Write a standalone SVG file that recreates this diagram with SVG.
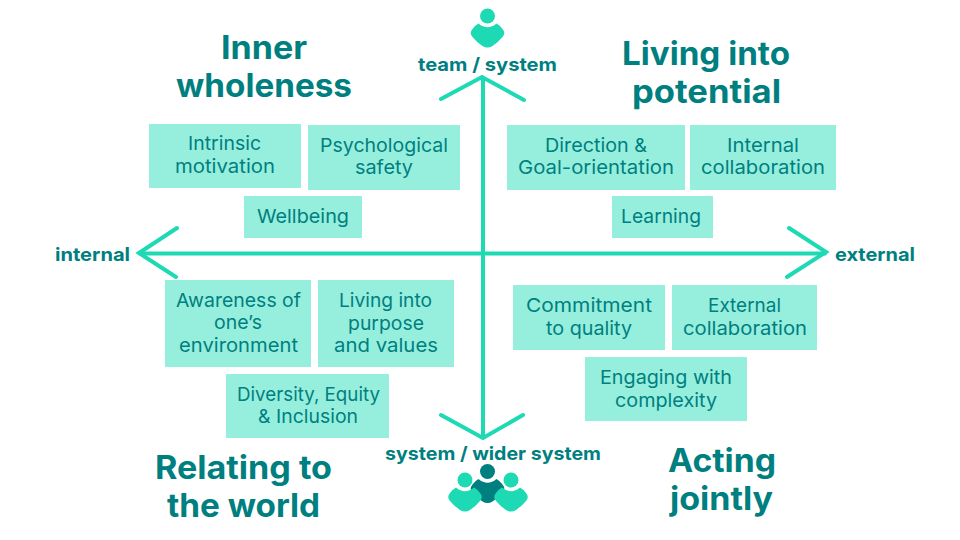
<svg xmlns="http://www.w3.org/2000/svg" width="960" height="540" viewBox="0 0 960 540">
<defs>
<g id="person"><circle cx="0" cy="0" r="7.500"/><path d="M-9 7.500Q0 15 9 7.500Q12 9 15 13Q18.500 17 15 21Q10 27 5 30Q0 33-5 30Q-10 27-15 21Q-18.500 17-15 13Q-12 9-9 7.500Z"/></g>
</defs>
<style>
text{font-family:"Inter","Open Sans","Liberation Sans",sans-serif;fill:#007f80;text-anchor:middle}
.h{font-size:32px;font-weight:700}
.l{font-size:18.500px;font-weight:700}
.b{font-size:19px;font-weight:400}
.box{fill:#96efdd}
.ax{fill:none;stroke:#1dd9b4;stroke-width:4;stroke-linecap:round;stroke-linejoin:miter}
.m{fill:#1dd9b4}
.d{fill:#007f80}
</style>
<rect width="960" height="540" fill="#fff"/>
<g id="connectors">
<path class="ax" d="M483 78V437M140 253.500H825"/>
<path class="ax" d="M441 99L482 77L524 100M441 415L483 438L523 415M177 228L139 253L176 277M789 228L826 252L787 277"/>
</g>
<g id="icon-team"><use href="#person" class="m" x="487.500" y="16"/></g>
<g id="icon-system">
<use href="#person" class="d" x="487.500" y="471.500"/>
<use href="#person" class="m" x="465" y="480"/>
<use href="#person" class="m" x="511" y="480"/>
</g>
<g id="title-inner"><text class="h" x="264" y="59" textLength="86" lengthAdjust="spacingAndGlyphs">Inner</text><text class="h" x="264" y="97" textLength="176" lengthAdjust="spacingAndGlyphs">wholeness</text></g>
<g id="title-potential"><text class="h" x="706" y="65" textLength="168" lengthAdjust="spacingAndGlyphs">Living into</text><text class="h" x="706.500" y="103" textLength="149" lengthAdjust="spacingAndGlyphs">potential</text></g>
<g id="title-world"><text class="h" x="243.500" y="479" textLength="177" lengthAdjust="spacingAndGlyphs">Relating to</text><text class="h" x="243.500" y="517" textLength="153" lengthAdjust="spacingAndGlyphs">the world</text></g>
<g id="title-jointly"><text class="h" x="722" y="472" textLength="108" lengthAdjust="spacingAndGlyphs">Acting</text><text class="h" x="721.500" y="510" textLength="103" lengthAdjust="spacingAndGlyphs">jointly</text></g>
<g id="label-team"><text class="l" x="487.500" y="71" textLength="139" lengthAdjust="spacingAndGlyphs">team / system</text></g>
<g id="label-system"><text class="l" x="493" y="460" textLength="216" lengthAdjust="spacingAndGlyphs">system / wider system</text></g>
<g id="label-internal"><text class="l" x="92.500" y="261" textLength="75" lengthAdjust="spacingAndGlyphs">internal</text></g>
<g id="label-external"><text class="l" x="875" y="261" textLength="80" lengthAdjust="spacingAndGlyphs">external</text></g>
<g id="n1"><rect class="box" x="149" y="124" width="152" height="64"/><text class="b" x="224.500" y="150" textLength="73" lengthAdjust="spacingAndGlyphs">Intrinsic</text><text class="b" x="225" y="173" textLength="100" lengthAdjust="spacingAndGlyphs">motivation</text></g>
<g id="n2"><rect class="box" x="308" y="125" width="152" height="65"/><text class="b" x="384" y="152" textLength="128" lengthAdjust="spacingAndGlyphs">Psychological</text><text class="b" x="384" y="174" textLength="58" lengthAdjust="spacingAndGlyphs">safety</text></g>
<g id="n3"><rect class="box" x="244" y="196" width="118" height="42"/><text class="b" x="303" y="223" textLength="92" lengthAdjust="spacingAndGlyphs">Wellbeing</text></g>
<g id="n4"><rect class="box" x="507" y="125" width="178" height="65"/><text class="b" x="596" y="152" textLength="102" lengthAdjust="spacingAndGlyphs">Direction &amp;</text><text class="b" x="596" y="174" textLength="156" lengthAdjust="spacingAndGlyphs">Goal-orientation</text></g>
<g id="n5"><rect class="box" x="690" y="125" width="146" height="65"/><text class="b" x="763" y="152" textLength="72" lengthAdjust="spacingAndGlyphs">Internal</text><text class="b" x="763" y="174" textLength="124" lengthAdjust="spacingAndGlyphs">collaboration</text></g>
<g id="n6"><rect class="box" x="612" y="196" width="101" height="42"/><text class="b" x="661" y="223" textLength="80" lengthAdjust="spacingAndGlyphs">Learning</text></g>
<g id="n7"><rect class="box" x="165" y="280" width="146" height="87"/><text class="b" x="238.500" y="307" textLength="125" lengthAdjust="spacingAndGlyphs">Awareness of</text><text class="b" x="238" y="329" textLength="48" lengthAdjust="spacingAndGlyphs">one’s</text><text class="b" x="238.500" y="352" textLength="119" lengthAdjust="spacingAndGlyphs">environment</text></g>
<g id="n8"><rect class="box" x="318" y="280" width="136" height="87"/><text class="b" x="385.500" y="307" textLength="93" lengthAdjust="spacingAndGlyphs">Living into</text><text class="b" x="386" y="330" textLength="76" lengthAdjust="spacingAndGlyphs">purpose</text><text class="b" x="386" y="352" textLength="104" lengthAdjust="spacingAndGlyphs">and values</text></g>
<g id="n9"><rect class="box" x="226" y="374" width="163" height="64"/><text class="b" x="308.500" y="401" textLength="143" lengthAdjust="spacingAndGlyphs">Diversity, Equity</text><text class="b" x="308" y="423" textLength="100" lengthAdjust="spacingAndGlyphs">&amp; Inclusion</text></g>
<g id="n10"><rect class="box" x="513" y="285" width="152" height="65"/><text class="b" x="589" y="312" textLength="126" lengthAdjust="spacingAndGlyphs">Commitment</text><text class="b" x="589" y="335" textLength="86" lengthAdjust="spacingAndGlyphs">to quality</text></g>
<g id="n11"><rect class="box" x="672" y="285" width="145" height="65"/><text class="b" x="744.500" y="312" textLength="73" lengthAdjust="spacingAndGlyphs">External</text><text class="b" x="745" y="335" textLength="124" lengthAdjust="spacingAndGlyphs">collaboration</text></g>
<g id="n12"><rect class="box" x="585" y="357" width="162" height="64"/><text class="b" x="666" y="384" textLength="132" lengthAdjust="spacingAndGlyphs">Engaging with</text><text class="b" x="666" y="407" textLength="102" lengthAdjust="spacingAndGlyphs">complexity</text></g>
</svg>
